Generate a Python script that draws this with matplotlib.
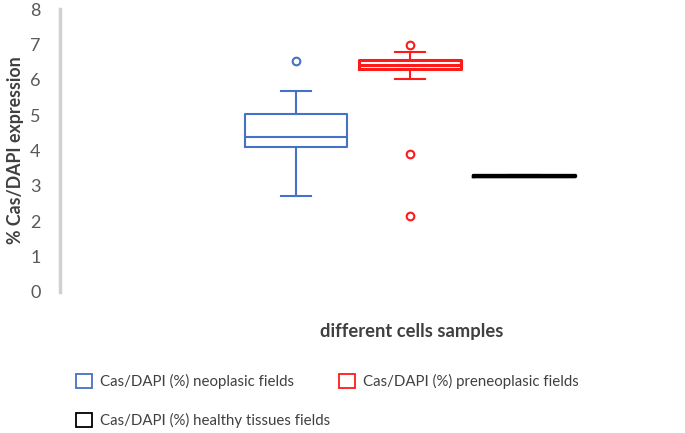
import matplotlib.pyplot as plt
from matplotlib.patches import Patch

# summary stats (Excel box & whisker)
groups = ['Cas/DAPI (%) neoplasic fields',
          'Cas/DAPI (%) preneoplasic fields',
          'Cas/DAPI (%) healthy tissues fields']
colors = ['#4472C4', '#FF1A1A', '#000000']
q1 = [4.09, 6.30, 3.27]
med = [4.37, 6.43, 3.29]
q3 = [5.03, 6.55, 3.31]
whislo = [2.71, 6.01, 3.27]
whishi = [5.68, 6.79, 3.31]
fliers = [[6.53], [6.98, 3.90, 2.15], []]

plt.rcParams['font.family'] = ['Lato', 'DejaVu Sans']

fig = plt.figure(figsize=(6.85, 4.33), dpi=100)
ax = fig.add_axes([60 / 685, 141 / 433, 610 / 685, 283 / 433])

stats = []
for i in range(3):
    stats.append(dict(label=groups[i], q1=q1[i], med=med[i], q3=q3[i],
                      whislo=whislo[i], whishi=whishi[i], fliers=fliers[i]))

for i, st in enumerate(stats):
    c = colors[i]
    lw = [1.5, 2.2, 2.4][i]
    ax.bxp([st], positions=[i + 1], widths=0.9, showfliers=True,
           boxprops=dict(color=c, linewidth=lw),
           medianprops=dict(color=c, linewidth=lw),
           whiskerprops=dict(color=c, linewidth=1.5),
           capprops=dict(color=c, linewidth=1.5),
           capwidths=0.26,
           flierprops=dict(marker='o', markerfacecolor='none', markeredgecolor=c,
                           markersize=5.5, markeredgewidth=1.5))

ax.set_xlim(-1.07, 4.28)
ax.set_ylim(0, 8)
ax.set_yticks(range(0, 9))
ax.set_xticks([])
for s in ['top', 'right', 'bottom']:
    ax.spines[s].set_visible(False)
ax.spines['left'].set_color('#D0D0D0')
ax.spines['left'].set_linewidth(2.5)
ax.tick_params(axis='y', length=0, pad=14, labelsize=13, labelcolor='#595959')

ax.set_ylabel('% Cas/DAPI expression', fontsize=12.8, fontweight='bold',
              color='#404040', labelpad=4)
fig.text(412 / 685, 1 - 331 / 433, 'different cells samples', fontsize=13.2,
         fontweight='bold', color='#404040', ha='center', va='center')

handles = [Patch(facecolor='white', edgecolor=colors[0], linewidth=1.3),
           Patch(facecolor='white', edgecolor=colors[2], linewidth=1.3),
           Patch(facecolor='white', edgecolor=colors[1], linewidth=1.3)]
labels = [groups[0], groups[2], groups[1]]
leg = fig.legend(handles, labels, ncol=2, loc='upper left',
                 bbox_to_anchor=(62 / 685, 1 - 360 / 433), frameon=False,
                 fontsize=10.8, handlelength=1.1, handleheight=1.1,
                 handletextpad=0.5, columnspacing=0.6, labelspacing=1.6)
for t in leg.get_texts():
    t.set_color('#404040')

fig.savefig('out.png', dpi=100)
